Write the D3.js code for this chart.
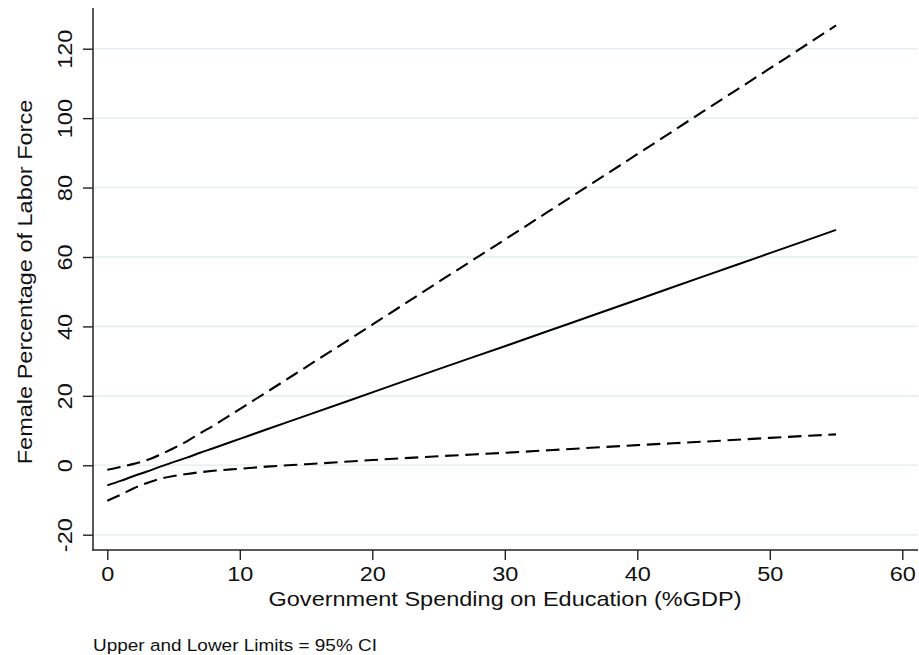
<!DOCTYPE html>
<html>
<head>
<meta charset="utf-8">
<script src="https://cdn.jsdelivr.net/npm/d3@7"></script>
<style>
  html, body { margin: 0; padding: 0; background: #fff; }
  svg { display: block; }
  text { font-family: "Liberation Sans", Arial, sans-serif; fill: #111; }
</style>
</head>
<body>
<svg id="chart" width="919" height="655"></svg>
<script>
// Predicted female labour-force share against education spending, with 95% CI
const spending = [0, 1, 2, 3, 4, 5, 6, 7, 8, 10, 12, 15, 20, 25, 30, 35, 40, 45, 50, 55];
const fitted   = [-5.8, -4.5, -3.1, -1.8, -0.4, 0.9, 2.2, 3.6, 4.9, 7.6, 10.3, 14.3, 21.0, 27.7, 34.3, 41.0, 47.7, 54.4, 61.1, 67.8];
const upperCI  = [-1.3, -0.5, 0.4, 1.5, 3.1, 4.9, 6.9, 9.2, 11.4, 16.2, 21.0, 28.3, 40.5, 52.8, 65.0, 77.3, 89.6, 102.0, 114.3, 126.7];
const lowerCI  = [-10.2, -8.5, -6.6, -5.1, -3.9, -3.1, -2.5, -2.0, -1.6, -1.0, -0.4, 0.3, 1.5, 2.6, 3.6, 4.7, 5.8, 6.8, 7.9, 8.9];

const xTicks = [0, 10, 20, 30, 40, 50, 60];
const yTicks = [-20, 0, 20, 40, 60, 80, 100, 120];

const xTitle = "Government Spending on Education (%GDP)";
const yTitle = "Female Percentage of Labor Force";
const note = "Upper and Lower Limits = 95% CI";

const svg = d3.select("#chart");
const plot = { left: 93, right: 918, top: 8, bottom: 550 };
const stretch = 1.12; // horizontal glyph widening
const tickFmt = d => String(d); // plain hyphen for negatives

const x = d3.scaleLinear().domain([0, 60]).range([107.3, 902.3]);
const y = d3.scaleLinear().domain([-20, 120]).range([534.7, 48.7]);

// horizontal gridlines
svg.append("g")
  .selectAll("line")
  .data(yTicks)
  .join("line")
  .attr("x1", plot.left).attr("x2", plot.right)
  .attr("y1", d => y(d)).attr("y2", d => y(d))
  .attr("stroke", "#e5eef1")
  .attr("stroke-width", 1.6);

// axes
const xAxis = svg.append("g")
  .attr("transform", `translate(0,${plot.bottom})`)
  .call(d3.axisBottom(x).tickValues(xTicks).tickFormat(tickFmt).tickSize(10).tickSizeOuter(0));
xAxis.select(".domain").remove();
xAxis.selectAll(".tick line").attr("stroke", "#222").attr("stroke-width", 1.4);
xAxis.selectAll(".tick text")
  .attr("y", 30.7).attr("dy", null)
  .attr("transform", `scale(${stretch},1)`)
  .style("font-size", "21px")
  .style("font-family", "'Liberation Sans', Arial, sans-serif")
  .attr("fill", "#111");

const yAxis = svg.append("g")
  .attr("transform", `translate(${plot.left},0)`)
  .call(d3.axisLeft(y).tickValues(yTicks).tickFormat(tickFmt).tickSize(10).tickSizeOuter(0));
yAxis.select(".domain").remove();
yAxis.selectAll(".tick line").attr("stroke", "#222").attr("stroke-width", 1.4);
yAxis.selectAll(".tick text")
  .attr("x", null).attr("dy", null)
  .attr("text-anchor", "middle")
  .attr("transform", `translate(-21,0) rotate(-90) scale(${stretch},1)`)
  .style("font-size", "21px")
  .style("font-family", "'Liberation Sans', Arial, sans-serif")
  .attr("fill", "#111");

// axis lines
svg.append("line")
  .attr("x1", plot.left).attr("x2", plot.left)
  .attr("y1", plot.top).attr("y2", plot.bottom + 0.7)
  .attr("stroke", "#222").attr("stroke-width", 1.5);
svg.append("line")
  .attr("x1", plot.left - 0.7).attr("x2", plot.right)
  .attr("y1", plot.bottom).attr("y2", plot.bottom)
  .attr("stroke", "#222").attr("stroke-width", 1.5);

// fitted line and confidence limits
const line = values => d3.line()
  .x((d, i) => x(spending[i]))
  .y(d => y(d))
  .curve(d3.curveMonotoneX)(values);

[upperCI, lowerCI].forEach(limit => {
  svg.append("path")
    .attr("d", line(limit))
    .attr("fill", "none").attr("stroke", "#000")
    .attr("stroke-width", 2.1).attr("stroke-dasharray", "13.5,6.7");
});
svg.append("path")
  .attr("d", line(fitted))
  .attr("fill", "none").attr("stroke", "#000")
  .attr("stroke-width", 2.0);

// titles
svg.append("text")
  .attr("text-anchor", "middle")
  .attr("transform", `translate(505,605.7) scale(${stretch},1)`)
  .style("font-size", "21px")
  .text(xTitle);

svg.append("text")
  .attr("text-anchor", "middle")
  .attr("transform", `translate(32,282) rotate(-90) scale(${stretch},1)`)
  .style("font-size", "21px")
  .text(yTitle);

svg.append("text")
  .attr("text-anchor", "start")
  .attr("transform", `translate(93,650.5) scale(1.15,1)`)
  .style("font-size", "16.5px")
  .text(note);
</script>
</body>
</html>
